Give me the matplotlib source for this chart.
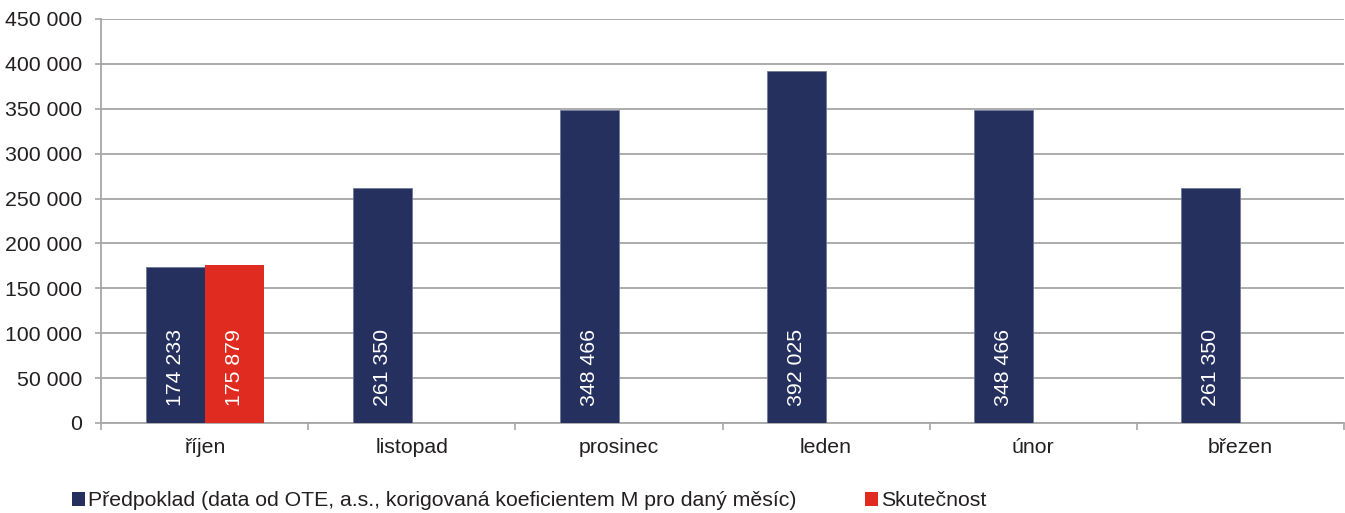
import matplotlib
matplotlib.use("Agg")
import matplotlib.pyplot as plt
from matplotlib.patches import Patch
import numpy as np

months = ["říjen", "listopad", "prosinec", "leden", "únor", "březen"]
predpoklad = [174233, 261350, 348466, 392025, 348466, 261350]
skutecnost = [175879, None, None, None, None, None]
yticks = [0, 50000, 100000, 150000, 200000, 250000, 300000, 350000, 400000, 450000]
legend_labels = ["Předpoklad (data od OTE, a.s., korigovaná koeficientem M pro daný měsíc)", "Skutečnost"]

BLUE = "#25305F"
RED = "#E02B20"
GRID = "#A6A6A6"
TXT = "#231F20"
FS = 15.3

plt.rcParams['font.family'] = ['Liberation Sans', 'DejaVu Sans']

W, H = 1345, 513
fig = plt.figure(figsize=(W / 100, H / 100), dpi=100)
ax = fig.add_axes([101 / W, 1 - 423 / H, (1344 - 101) / W, (423 - 19) / H])

x = np.arange(len(months))
bw = 0.285

def fmt(v):
    return f"{v:,}".replace(",", " ")

ax.bar(x - bw / 2, predpoklad, width=bw, color=BLUE, edgecolor="#6F7896", linewidth=0.6, zorder=3)
for xi, v in zip(x, predpoklad):
    ax.annotate(fmt(v), (xi - bw / 2, 0), xytext=(0, 12.5), textcoords="offset points",
                rotation=90, ha="center", va="bottom", color="white", fontsize=FS, zorder=4)

sx = [xi for xi, v in zip(x, skutecnost) if v is not None]
sv = [v for v in skutecnost if v is not None]
ax.bar(np.array(sx) + bw / 2, sv, width=bw, color=RED, linewidth=0, zorder=3)
for xi, v in zip(sx, sv):
    ax.annotate(fmt(v), (xi + bw / 2, 0), xytext=(0, 12.5), textcoords="offset points",
                rotation=90, ha="center", va="bottom", color="white", fontsize=FS, zorder=4)

ax.set_xlim(-0.5, len(months) - 0.5)
ax.set_ylim(0, 450000)
ax.set_yticks(yticks)
ax.set_yticklabels([fmt(v) for v in yticks], fontsize=FS, color=TXT)
ax.yaxis.grid(True, color=GRID, linewidth=1.3, zorder=0)
ax.set_axisbelow(True)

ax.set_xticks(x)
ax.set_xticklabels(months, fontsize=FS, color=TXT)
ax.set_xticks(np.arange(len(months) + 1) - 0.5, minor=True)
ax.tick_params(axis="x", which="major", length=0, pad=11)
ax.tick_params(axis="x", which="minor", length=5, color=GRID, width=1.2)
ax.tick_params(axis="y", length=4.5, color=GRID, width=1.2, pad=9)

for s in ["top", "right"]:
    ax.spines[s].set_visible(False)
ax.spines["left"].set_color(GRID)
ax.spines["left"].set_linewidth(1.3)
ax.spines["bottom"].set_color(GRID)
ax.spines["bottom"].set_linewidth(1.3)

handles = [Patch(facecolor=BLUE, edgecolor="none"), Patch(facecolor=RED, edgecolor="none")]
fig.legend(handles, legend_labels, loc="center left", bbox_to_anchor=(66 / W, 1 - 501 / H),
           ncol=2, frameon=False, fontsize=FS, handlelength=0.6, handleheight=0.6,
           handletextpad=0.15, columnspacing=3.2, labelcolor=TXT, borderaxespad=0, borderpad=0.3)

fig.savefig("out.png", dpi=100)
